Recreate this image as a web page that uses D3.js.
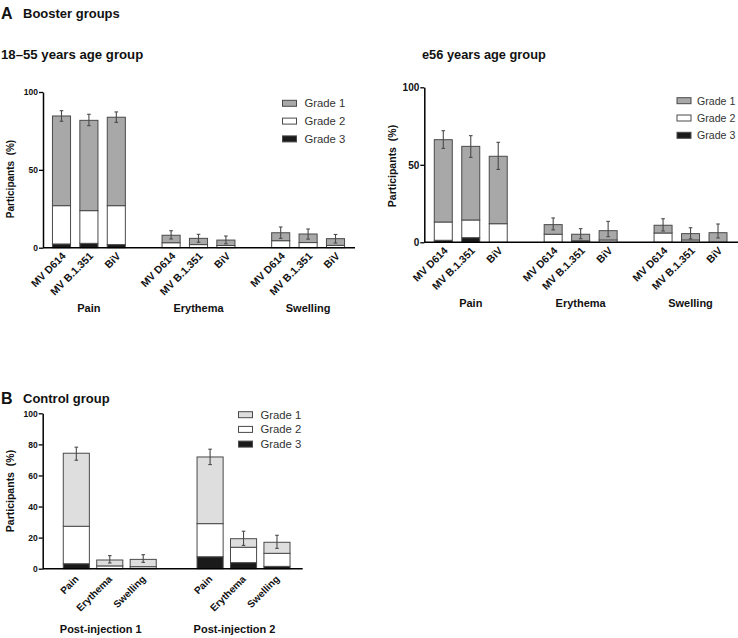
<!DOCTYPE html>
<html>
<head>
<meta charset="utf-8">
<script src="https://cdn.jsdelivr.net/npm/d3@7"></script>
<style>
  html, body { margin: 0; padding: 0; background: #fff; }
  svg { display: block; font-family: "Liberation Sans", Arial, sans-serif; }
</style>
</head>
<body>
<svg id="chart" width="738" height="638"></svg>
<script>
// ---------------- DATA ----------------
const gradeLabels = ["Grade 1", "Grade 2", "Grade 3"];
const boosterVaccines = ["MV D614", "MV B.1.351", "BiV"];
const boosterReactions = ["Pain", "Erythema", "Swelling"];
const controlReactions = ["Pain", "Erythema", "Swelling"];
const controlInjections = ["Post-injection 1", "Post-injection 2"];
const yTicksBooster = [0, 50, 100];
const yTicksControl = [0, 20, 40, 60, 80, 100];

// 18–55 years (bars ordered: Pain x3, Erythema x3, Swelling x3)
const young_g3 = [2.4, 2.8, 2.0, 0, 0, 0, 0, 0, 0];
const young_g2 = [24.6, 21.0, 25.0, 3.2, 2.0, 1.4, 4.5, 3.3, 1.5];
const young_g1 = [57.6, 58.0, 56.8, 4.8, 4.0, 3.5, 5.1, 5.5, 4.3];
const young_errLow = [81.2, 78.4, 80.5, 5.6, 3.5, 2.5, 6.0, 5.5, 3.0];
const young_errHigh = [88.0, 85.7, 87.2, 10.9, 8.6, 7.5, 13.3, 12.0, 8.5];

// ≥56 years
const old_g3 = [1.3, 3.0, 0, 0, 0.5, 0, 0, 0, 0];
const old_g2 = [11.8, 11.4, 12.0, 5.2, 0.5, 1.5, 6.0, 1.5, 0];
const old_g1 = [53.1, 47.5, 43.5, 6.2, 4.2, 6.0, 5.0, 4.1, 6.2];
const old_errLow = [60.6, 54.8, 47.0, 8.0, 2.3, 3.6, 7.3, 2.2, 2.8];
const old_errHigh = [72.0, 68.8, 64.5, 15.7, 8.8, 13.5, 15.2, 9.4, 11.8];

// Control group (PI1: Pain, Erythema, Swelling; PI2: Pain, Erythema, Swelling)
const ctrl_g3 = [3.2, 0, 0, 7.7, 3.9, 1.5];
const ctrl_g2 = [24.1, 1.8, 1.3, 21.3, 9.9, 8.4];
const ctrl_g1 = [47.0, 3.8, 4.7, 42.9, 5.5, 7.1];
const ctrl_errLow = [69.8, 3.7, 4.1, 67.0, 15.0, 13.1];
const ctrl_errHigh = [78.2, 8.4, 9.0, 76.9, 24.1, 21.5];

// ---------------- DRAW ----------------
const svg = d3.select("#chart");
const FONT = '"Liberation Sans", Arial, sans-serif';

function buildRows(groups, items, g1, g2, g3, lo, hi) {
  const rows = [];
  const domain = [];
  let k = 0;
  groups.forEach((grp, gi) => {
    if (gi > 0) domain.push("gap" + gi);
    items.forEach(it => {
      const key = grp + "|" + it;
      domain.push(key);
      rows.push({ key, group: grp, item: it, g3: g3[k], g2: g2[k], g1: g1[k], lo: lo[k], hi: hi[k] });
      k++;
    });
  });
  return { rows, domain };
}

function drawPanel(cfg) {
  const { rows, domain } = buildRows(cfg.groups, cfg.items, cfg.g1, cfg.g2, cfg.g3, cfg.lo, cfg.hi);
  const x = d3.scaleBand().domain(domain).range(cfg.xRange)
    .paddingInner(cfg.pad).paddingOuter(cfg.pad / 2);
  const y = d3.scaleLinear().domain([0, 100]).range(cfg.yRange);
  const g = svg.append("g");

  const stack = d3.stack().keys(["g3", "g2", "g1"]);
  const series = stack(rows);
  const fills = { g3: "#1a1a1a", g2: "#ffffff", g1: cfg.g1Color };

  series.forEach(s => {
    g.append("g").selectAll("rect")
      .data(s.filter(d => d[1] - d[0] > 0))
      .join("rect")
      .attr("x", d => x(d.data.key))
      .attr("width", x.bandwidth())
      .attr("y", d => y(d[1]))
      .attr("height", d => y(d[0]) - y(d[1]))
      .attr("fill", fills[s.key])
      .attr("stroke", "#4a4a4a")
      .attr("stroke-width", 1);
  });

  // error bars
  const eb = g.append("g").attr("stroke", "#4a4a4a").attr("stroke-width", 1.1);
  rows.forEach(d => {
    const cx = x(d.key) + x.bandwidth() / 2;
    eb.append("line").attr("x1", cx).attr("x2", cx).attr("y1", y(d.lo)).attr("y2", y(d.hi));
    eb.append("line").attr("x1", cx - 1.8).attr("x2", cx + 1.8).attr("y1", y(d.lo)).attr("y2", y(d.lo));
    eb.append("line").attr("x1", cx - 1.8).attr("x2", cx + 1.8).attr("y1", y(d.hi)).attr("y2", y(d.hi));
  });

  // y axis
  const ya = g.append("g").attr("transform", `translate(${cfg.axisX},0)`)
    .call(d3.axisLeft(y).tickValues(cfg.yTicks).tickSize(4).tickSizeOuter(0).tickFormat(d3.format("d")));
  ya.select(".domain").attr("stroke", "#000").attr("stroke-width", 1.5);
  ya.selectAll(".tick line").attr("stroke", "#000").attr("stroke-width", 1.3);
  ya.selectAll(".tick text").attr("font-family", FONT).attr("font-weight", "bold")
    .attr("font-size", cfg.yTickFont).attr("fill", "#111").attr("x", -5);

  // x axis line
  g.append("line").attr("x1", cfg.axisX).attr("x2", cfg.xAxisEnd)
    .attr("y1", y(0)).attr("y2", y(0)).attr("stroke", "#000").attr("stroke-width", 1.5);

  // x tick labels
  g.append("g").selectAll("text").data(rows).join("text")
    .attr("transform", d => `translate(${x(d.key) + x.bandwidth() / 2 + cfg.labDx},${y(0) + cfg.labDy}) rotate(-45)`)
    .attr("text-anchor", "end")
    .attr("font-family", FONT).attr("font-weight", "bold").attr("font-size", cfg.xTickFont)
    .attr("fill", "#111")
    .text(d => d.item);

  // group labels
  cfg.groups.forEach((grp, gi) => {
    const mids = rows.filter(r => r.group === grp);
    const cx = (x(mids[0].key) + x(mids[mids.length - 1].key) + x.bandwidth()) / 2 + cfg.groupDx;
    g.append("text").attr("x", cx).attr("y", cfg.groupY)
      .attr("text-anchor", "middle").attr("font-family", FONT).attr("font-weight", "bold")
      .attr("font-size", cfg.groupFont).attr("fill", "#111").text(grp);
  });

  // y axis title
  g.append("text")
    .attr("transform", `translate(${cfg.titleX},${cfg.titleY}) rotate(-90)`)
    .attr("text-anchor", "middle").attr("font-family", FONT).attr("font-weight", "bold")
    .attr("font-size", cfg.yTitleFont).attr("fill", "#111")
    .attr("xml:space", "preserve")
    .text("Participants  (%)");

  // legend
  const legFills = [cfg.g1Color, "#ffffff", "#1a1a1a"];
  gradeLabels.forEach((lab, i) => {
    const cy = cfg.legY + i * cfg.legStep;
    g.append("rect").attr("x", cfg.legX).attr("y", cy - 3).attr("width", 14).attr("height", 6)
      .attr("fill", legFills[i]).attr("stroke", "#4a4a4a").attr("stroke-width", 1);
    g.append("text").attr("x", cfg.legX + cfg.legGap).attr("y", cy + 4)
      .attr("font-family", FONT).attr("font-size", cfg.legFont).attr("fill", "#333").text(lab);
  });
}

// headings
function heading(letter, txt, yBase) {
  svg.append("text").attr("x", 1).attr("y", yBase).attr("font-family", FONT)
    .attr("font-weight", "bold").attr("font-size", 16).attr("fill", "#111").text(letter);
  svg.append("text").attr("x", 23).attr("y", yBase - 1).attr("font-family", FONT)
    .attr("font-weight", "bold").attr("font-size", 13).attr("fill", "#111").text(txt);
}
heading("A", "Booster groups", 19);
heading("B", "Control group", 404);
svg.append("text").attr("x", 1).attr("y", 59).attr("font-family", FONT)
  .attr("font-weight", "bold").attr("font-size", 13.2).attr("fill", "#111").text("18–55 years age group");
svg.append("text").attr("x", 422).attr("y", 59).attr("font-family", FONT)
  .attr("font-weight", "bold").attr("font-size", 12.8).attr("fill", "#111").text("e56 years age group");

drawPanel({
  groups: boosterReactions, items: boosterVaccines,
  g1: young_g1, g2: young_g2, g3: young_g3, lo: young_errLow, hi: young_errHigh,
  xRange: [47.8, 349.2], pad: 0.34, yRange: [247.7, 92], axisX: 43, xAxisEnd: 355,
  yTicks: yTicksBooster, g1Color: "#a8a8a8",
  yTickFont: 8.5, xTickFont: 10.5, groupFont: 11, yTitleFont: 10,
  labDx: 5, labDy: 9, groupY: 312, groupDx: 0,
  titleX: 14, titleY: 179, legX: 282.5, legY: 103.3, legStep: 17.8, legGap: 22, legFont: 11.3
});

drawPanel({
  groups: boosterReactions, items: boosterVaccines,
  g1: old_g1, g2: old_g2, g3: old_g3, lo: old_errLow, hi: old_errHigh,
  xRange: [429.55, 731.75], pad: 0.345, yRange: [242.3, 87.3], axisX: 424.3, xAxisEnd: 738,
  yTicks: yTicksBooster, g1Color: "#a8a8a8",
  yTickFont: 10, xTickFont: 10.5, groupFont: 11, yTitleFont: 10.5,
  labDx: 5, labDy: 9, groupY: 307, groupDx: 0,
  titleX: 396, titleY: 166, legX: 677, legY: 100.7, legStep: 17.3, legGap: 20, legFont: 10.6
});

drawPanel({
  groups: controlInjections, items: controlReactions,
  g1: ctrl_g1, g2: ctrl_g2, g3: ctrl_g3, lo: ctrl_errLow, hi: ctrl_errHigh,
  xRange: [59.6, 293.7], pad: 0.22, yRange: [568.7, 413.3], axisX: 42.7, xAxisEnd: 302.7,
  yTicks: yTicksControl, g1Color: "#dedede",
  yTickFont: 8.5, xTickFont: 10, groupFont: 11, yTitleFont: 10.5,
  labDx: 3, labDy: 11, groupY: 633, groupDx: -9,
  titleX: 14, titleY: 491, legX: 238.5, legY: 414.7, legStep: 14.7, legGap: 22, legFont: 11.3
});
</script>
</body>
</html>
